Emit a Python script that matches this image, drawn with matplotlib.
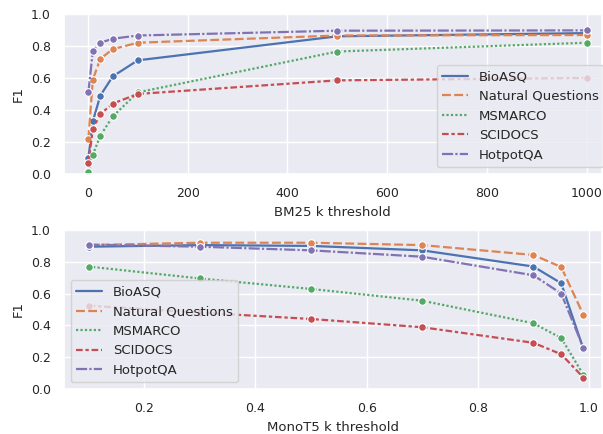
import matplotlib
matplotlib.use("Agg")
import matplotlib.pyplot as plt
from matplotlib.lines import Line2D
import seaborn as sns

sns.set_theme(style="darkgrid")

datasets = ["BioASQ", "Natural Questions", "MSMARCO", "SCIDOCS", "HotpotQA"]
colors = ["#4C72B0", "#DD8452", "#55A868", "#C44E52", "#8172B3"]
dashes = ["", (4, 1.5), (1, 1), (3, 1.25, 1.5, 1.25), (5, 1, 1, 1)]

bm25_k = [1, 10, 25, 50, 100, 500, 1000]
bm25_f1 = {
    "BioASQ": [0.10, 0.33, 0.49, 0.61, 0.71, 0.86, 0.88],
    "Natural Questions": [0.22, 0.59, 0.72, 0.78, 0.82, 0.865, 0.868],
    "MSMARCO": [0.01, 0.12, 0.24, 0.36, 0.51, 0.765, 0.82],
    "SCIDOCS": [0.07, 0.28, 0.375, 0.44, 0.50, 0.585, 0.60],
    "HotpotQA": [0.51, 0.77, 0.82, 0.845, 0.865, 0.895, 0.897],
}

monot5_k = [0.1, 0.3, 0.5, 0.7, 0.9, 0.95, 0.99]
monot5_f1 = {
    "BioASQ": [0.895, 0.905, 0.90, 0.872, 0.77, 0.665, 0.25],
    "Natural Questions": [0.905, 0.92, 0.92, 0.905, 0.843, 0.767, 0.465],
    "MSMARCO": [0.77, 0.695, 0.629, 0.555, 0.413, 0.32, 0.088],
    "SCIDOCS": [0.524, 0.48, 0.44, 0.388, 0.29, 0.218, 0.071],
    "HotpotQA": [0.908, 0.895, 0.872, 0.832, 0.715, 0.60, 0.258],
}

fig = plt.figure(figsize=(6.03, 4.34), dpi=100)
ax1 = fig.add_axes([0.106, 0.599, 0.892, 0.369])
ax2 = fig.add_axes([0.106, 0.104, 0.892, 0.366])


def draw(ax, x, data):
    handles = []
    for name, c, d in zip(datasets, colors, dashes):
        line, = ax.plot(x, data[name], color=c, marker="o", markersize=5.5,
                        markeredgecolor="white", markeredgewidth=0.8,
                        linewidth=1.6)
        h = Line2D([], [], color=c, linewidth=1.6, label=name)
        if d:
            line.set_dashes(d)
            h.set_dashes(d)
        handles.append(h)
    ax.set_ylim(0, 1.0)
    ax.set_ylabel("F1", fontsize=9.5)
    ax.tick_params(labelsize=9)
    return handles


handles = draw(ax1, bm25_k, bm25_f1)
ax1.set_xlim(-48, 1030)
ax1.set_xlabel("BM25 k threshold", fontsize=9.5)
ax1.legend(handles=handles, loc="lower left", bbox_to_anchor=(0.693, 0.044),
           fontsize=9.5, borderaxespad=0)

handles = draw(ax2, monot5_k, monot5_f1)
ax2.set_xlim(0.0555, 1.023)
ax2.set_xlabel("MonoT5 k threshold", fontsize=9.5)
ax2.legend(handles=handles, loc="lower left", fontsize=9.5)

fig.savefig("out.png", dpi=100)
